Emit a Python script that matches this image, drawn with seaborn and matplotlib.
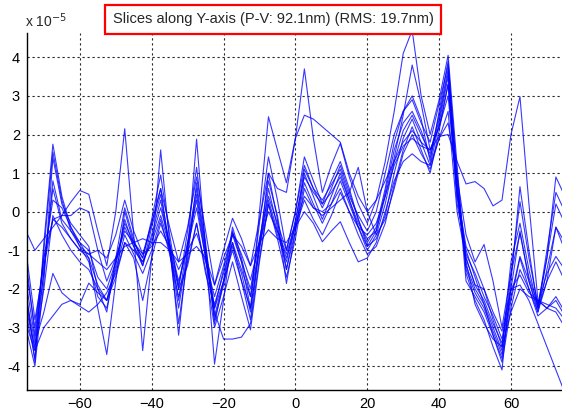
import numpy as np
import pandas as pd
import matplotlib
matplotlib.use("Agg")
import matplotlib.pyplot as plt
import seaborn as sns
from matplotlib.ticker import FuncFormatter

# ---- data (heights in units of 1e-5) ----
x_pos = np.arange(-75, 75.01, 2.5)  # sampling positions along the slice

s01 = [-0.5, -1.0, -0.7, -0.4, -0.1, 0.25, 0.55, 0.45, -0.5, -1.4,
       0.0, 2.15, -0.6, -3.6, -1.2, 1.6, -0.8, -3.2, -1.0, 1.88,
       -1.0, -3.95, -2.3, -0.5, -1.3, -2.5, 0.0, 2.46, 1.6, 0.75,
       1.9, 3.7, 1.9, 0.5, 1.2, 1.77, 0.9, 0.2, -0.3, 0.3,
       1.3, 2.6, 4.1, 4.7, 3.0, 2.0, 2.9, 4.05, 1.2, -1.6,
       -2.3, -2.8, -3.5, -4.1, -1.8, 0.65, -1.0, -2.5, -1.2, 0.9, 0.4]
s02 = [-1.2, -3.2, -1.2, 0.3, 0.1, -0.4, -0.9, -1.1, -1.0, -1.2,
       -0.6, 0.3, -0.5, -1.1, -0.3, 0.6, -0.4, -1.3, -0.4, 0.9,
       -0.5, -1.9, -1.2, -0.6, -0.9, -1.4, -0.2, 1.0, 0.6, 0.5,
       1.9, 2.5, 2.4, 2.2, 2.0, 1.8, 1.0, 0.4, 0.0, 0.3,
       0.8, 1.3, 1.8, 2.1, 1.8, 1.6, 1.95, 2.0, 1.3, 0.72,
       0.78, 0.6, 0.15, 0.3, 2.0, 2.98, 0.2, -2.3, -2.5, -2.2, -2.6]
s03 = [-2.0, -3.9, -0.8, 1.75, 0.4, -0.4, -0.8, -1.2, -2.5, -3.7,
       -1.8, 0.0, -0.8, -1.2, -0.2, 0.95, -0.6, -2.0, -0.5, 1.15,
       -0.8, -2.9, -1.8, -0.4, -1.2, -2.2, -0.3, 1.42, 0.3, -1.0,
       0.0, 1.42, 0.8, 0.2, 0.8, 1.3, 0.6, -0.2, -0.8, -0.4,
       0.6, 1.8, 2.6, 3.0, 2.4, 1.3, 2.6, 3.9, 0.8, -1.8,
       -2.2, -2.6, -3.2, -3.8, -2.0, -0.5, -1.8, -2.6, -1.5, -0.4, -0.8]
s04 = [-2.3, -3.6, -1.0, 1.55, 0.3, -0.5, -0.9, -1.3, -2.2, -2.5,
       -1.4, -0.2, -0.9, -1.4, -0.6, 0.3, -1.0, -2.5, -1.0, 0.45,
       -1.1, -2.7, -1.8, -0.8, -1.8, -2.8, -0.9, 0.99, -0.2, -1.86,
       -0.5, 0.99, 0.4, -0.2, 0.4, 1.0, 0.3, -0.4, -1.0, -0.6,
       0.2, 1.3, 2.1, 2.5, 2.0, 1.5, 2.5, 3.7, 0.6, -1.4,
       -2.0, -2.4, -3.0, -3.6, -1.6, 0.26, -1.2, -2.4, -1.2, 0.2, -0.3]
s05 = [-1.8, -3.3, -1.6, 0.8, -0.2, -0.5, -0.8, -1.0, -1.7, -2.0,
       -1.3, -0.4, -0.9, -1.3, -0.7, 0.1, -0.8, -1.8, -0.9, 0.1,
       -1.2, -2.5, -1.8, -1.0, -1.8, -2.5, -1.0, 0.6, -0.4, -1.5,
       -0.5, 0.75, 0.2, -0.3, 0.2, 0.8, 0.2, -0.4, -0.9, -0.7,
       -0.1, 1.0, 1.9, 2.4, 1.8, 1.2, 2.3, 3.5, 0.4, -1.2,
       -1.9, -2.3, -2.9, -3.4, -2.2, -1.16, -1.8, -2.5, -1.8, -1.3, -1.8]
s06 = [-2.6, -3.8, -1.5, 0.6, -0.3, -0.7, -1.0, -1.2, -1.9, -2.3,
       -1.5, -0.6, -1.1, -1.6, -1.0, -0.2, -1.1, -2.2, -1.3, -0.3,
       -1.5, -3.0, -2.2, -1.3, -2.2, -3.06, -1.3, 0.2, -0.7, -1.7,
       -0.7, 0.6, 0.1, 0.0, 0.2, 0.6, 0.0, -0.6, -1.1, -0.9,
       -0.3, 0.7, 1.6, 2.2, 1.6, 1.0, 2.1, 3.3, 0.2, -1.0,
       -1.7, -2.4, -3.2, -3.9, -2.5, -1.5, -2.0, -2.7, -2.5, -2.3, -2.7]
s07 = [-1.0, -2.8, -1.4, -0.2, -0.1, -0.1, 0.1, 0.0, -1.0, -1.8,
       -1.2, -0.5, -0.8, -1.1, -0.9, -0.5, -0.9, -1.5, -1.0, -0.56,
       -1.3, -2.2, -1.4, -0.55, -1.1, -1.77, -0.8, 0.0, -0.5, -1.2,
       -0.4, 0.3, -0.2, -0.6, -0.1, 0.5, 0.0, -0.4, -0.6, -0.3,
       0.4, 1.2, 1.7, 1.9, 1.7, 1.6, 2.2, 3.0, 0.5, -0.9,
       -1.4, -2.0, -2.8, -3.5, -2.6, -2.0, -2.2, -2.3, -2.5, -2.6, -3.0]
s08 = [-1.5, -3.0, -1.2, -0.2, -0.4, -0.7, -1.0, -1.1, -1.3, -1.5,
       -1.2, -0.9, -0.8, -0.7, -0.8, -0.8, -1.0, -1.3, -1.1, -0.9,
       -1.2, -1.9, -1.0, -0.17, -0.7, -1.4, -0.8, -0.47, -0.7, -0.8,
       -0.4, 0.0, -0.3, -0.78, -0.5, -0.26, -0.8, -1.3, -1.2, -0.8,
       0.0, 0.8, 1.3, 1.5, 1.3, 1.2, 1.9, 2.3, 0.9, -0.6,
       -1.3, -0.85, -1.8, -3.0, -1.6, -0.56, -1.7, -2.4, -1.6, -1.16, -1.5]
s09 = [-2.2, -3.4, -2.6, -1.6, -2.1, -2.3, -2.4, -1.85, -2.1, -2.3,
       -1.3, -0.3, -0.8, -1.2, -0.3, 0.6, -1.0, -2.9, -1.2, 0.75,
       -0.9, -2.5, -1.5, -0.6, -1.3, -2.0, -0.7, 0.4, -0.3, -1.0,
       0.0, 1.2, 0.6, 0.3, 0.7, 1.1, 0.4, -0.1, -0.5, 0.0,
       1.0, 2.0, 2.6, 2.9, 2.3, 1.8, 2.8, 3.8, 1.0, -1.5,
       -2.1, -2.5, -3.1, -3.7, -2.3, -1.2, -2.0, -2.6, -1.8, -0.4, -1.0]
s10 = [-2.9, -3.6, -3.0, -2.7, -2.4, -2.3, -2.45, -2.6, -2.4, -2.1,
       -1.6, -0.8, -1.0, -1.3, -0.8, -0.1, -0.9, -1.9, -0.8, 0.3,
       -1.2, -2.6, -3.3, -3.3, -3.25, -2.9, -1.2, 0.2, -0.6, -1.3,
       -0.2, 0.9, 0.5, 0.2, 0.5, 0.9, 0.3, -0.3, -0.7, -0.5,
       0.5, 1.6, 2.3, 2.6, 2.1, 1.4, 2.4, 3.6, 0.7, -1.1,
       -1.6, -2.2, -2.7, -3.3, -2.0, -1.64, -2.1, -2.3, -2.4, -2.5, -2.8]
s11 = [-3.0, -4.0, -1.8, 1.4, 0.2, -0.3, -0.6, -0.9, -2.0, -2.6,
       -1.2, 0.1, -0.7, -1.4, -0.4, 0.45, -0.9, -2.3, -0.8, 0.6,
       -1.0, -2.8, -1.9, -0.9, -1.6, -2.6, -0.8, 0.8, -0.1, -1.5,
       -0.3, 1.1, 0.6, 0.1, 0.6, 1.2, 0.5, -0.2, -0.9, -0.5,
       0.4, 1.4, 2.5, 3.8, 2.8, 1.6, 2.2, 3.3, 0.5, -1.3,
       -2.4, -2.9, -3.3, -3.5, -1.3, -0.3, -1.5, -2.5, -1.0, 0.5, 0.0]
s12 = [-2.5, -3.5, -2.0, -0.1, -0.6, -1.0, -1.3, -1.5, -2.0, -2.3,
       -1.7, -0.8, -1.2, -2.3, -1.2, -0.3, -1.0, -2.0, -1.4, -0.3,
       -1.6, -2.4, -1.6, -0.8, -1.5, -2.2, -0.9, 0.3, -0.5, -1.1,
       -0.3, 0.4, 0.1, -0.1, 0.1, 0.3, 0.5, 1.15, 0.0, -0.6,
       -0.2, 0.6, 1.5, 2.0, 1.5, 1.1, 1.9, 2.6, 0.0, -1.2,
       -1.9, -2.0, -2.6, -3.1, -2.0, -1.9, -2.3, -2.9, -3.5, -4.1, -4.7]

slices = [s01, s02, s03, s04, s05, s06, s07, s08, s09, s10, s11, s12]
x_ticks = [-60, -40, -20, 0, 20, 40, 60]
y_ticks = [-4, -3, -2, -1, 0, 1, 2, 3, 4]
title_text = "Slices along Y-axis (P-V: 92.1nm) (RMS: 19.7nm)"
scale = 1e-5

rows = []
for k, s in enumerate(slices):
    for xv, yv in zip(x_pos, s):
        rows.append({"x": xv, "h": yv * scale, "slice": k})
df = pd.DataFrame(rows)

# ---- figure ----
sns.set_style("white")
plt.rcParams["font.family"] = ["Liberation Sans", "DejaVu Sans"]

W, H = 562, 413
fig = plt.figure(figsize=(W / 100, H / 100), dpi=100)
ax = fig.add_axes([27 / W, (H - 390) / H, (562 - 27) / W, (390 - 33) / H])

sns.lineplot(data=df, x="x", y="h", units="slice", estimator=None,
             color="#0000FF", lw=0.8, alpha=0.78, sort=False, ax=ax,
             legend=False)

ax.set_xlim(-74.7, 74.2)
ax.set_ylim(-4.62 * scale, 4.63 * scale)
ax.set_xticks(x_ticks)
ax.set_yticks([v * scale for v in y_ticks])
ax.yaxis.set_major_formatter(FuncFormatter(lambda v, p: f"{v / scale:.0f}"))
ax.set_xlabel("")
ax.set_ylabel("")

ax.grid(True, color="black", linestyle=(0, (2, 2.5)), linewidth=0.8, alpha=0.85)
for side in ["top", "right"]:
    ax.spines[side].set_visible(False)
for side in ["left", "bottom"]:
    ax.spines[side].set_color("black")
    ax.spines[side].set_linewidth(1.0)
ax.tick_params(axis="both", direction="in", length=3, width=0.8,
               labelsize=10.5, colors="black", pad=5)

fig.text(25 / W, 1 - 27 / H, r"x 10$^{-5}$", fontsize=10, ha="left", va="baseline")
fig.text(273 / W, 1 - 19.5 / H, title_text, fontsize=10.5, ha="center", va="center",
         bbox=dict(boxstyle="square,pad=0.5", facecolor="white",
                   edgecolor="#FF0000", linewidth=1.6))

fig.savefig("out.png", dpi=100)
